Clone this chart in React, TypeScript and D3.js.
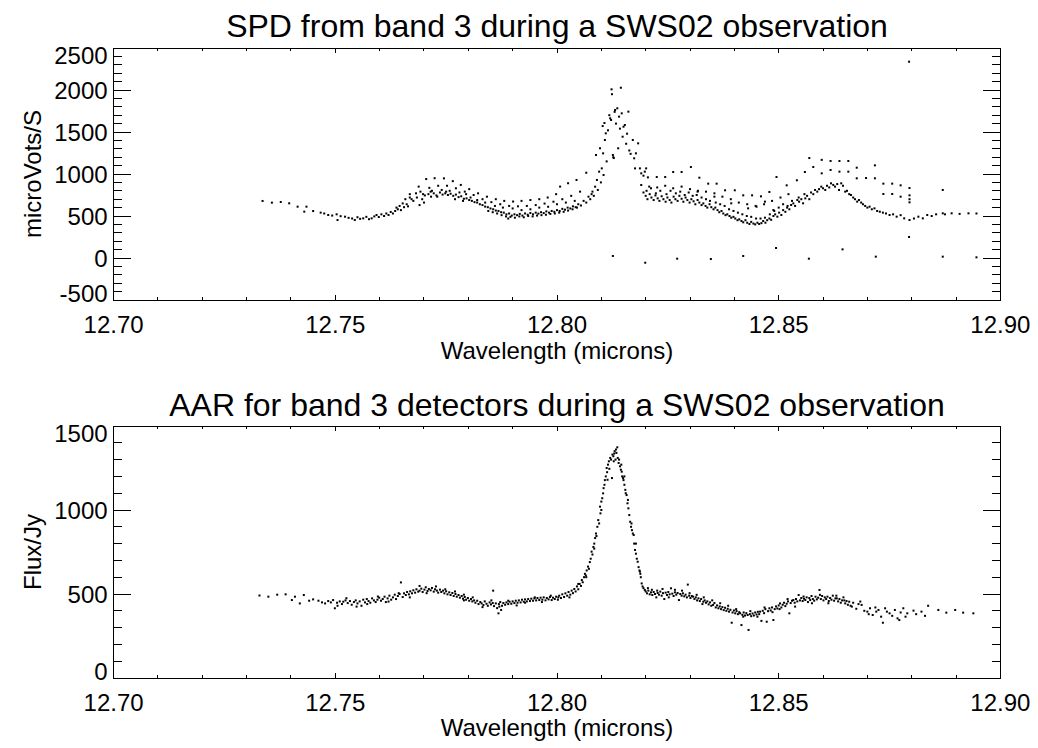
import React, { useEffect, useRef } from "react";
import * as d3 from "d3";

// ---------- tick labels ----------
const xTickValues = [12.7, 12.75, 12.8, 12.85, 12.9];
const spdYTicks = [-500, 0, 500, 1000, 1500, 2000, 2500];
const aarYTicks = [0, 500, 1000, 1500];

// ---------- SPD (top panel) data: [wavelength, microVolts/s] ----------
const spdStart: [number, number][] = [
  [12.7336,679],[12.7357,659],[12.7377,667],[12.7396,651],[12.7415,611],[12.743,552],[12.7435,611],[12.745,559],
  [12.7467,540],[12.7475,530],[12.7484,512],[12.7493,505],[12.7503,520],[12.7505,452],[12.7512,498],[12.7522,492],
  [12.753,478],[12.7538,470],[12.7544,452],[12.755,485],[12.7556,466],[12.7563,472],[12.757,490],[12.7576,462],
  [12.7582,472],[12.7588,495],[12.7593,512],[12.7598,488],[12.7604,520],[12.761,500],[12.7615,530],[12.762,512],
  [12.7625,548],[12.763,530],[12.7635,560],[12.7638,600],[12.7641,580],[12.7645,620],[12.7648,570],[12.7652,650],
  [12.7655,605],[12.7658,700],[12.7661,640],[12.7664,615],
];
const spdUpper: [number, number][] = [
  [12.7668,760],[12.7688,850],[12.7705,940],[12.7724,950],[12.7745,948],[12.7765,915],[12.7783,870],[12.7802,820],
  [12.7822,770],[12.7842,730],[12.7862,700],[12.7881,680],[12.7901,672],[12.792,680],[12.794,690],[12.796,700],
  [12.7979,720],[12.7998,760],[12.8007,850],[12.8025,890],[12.8044,929],[12.8066,1015],
  [12.7672,700],[12.7692,790],[12.7712,835],[12.7732,860],[12.7752,860],[12.7772,830],[12.7792,790],[12.7812,750],
  [12.7832,700],[12.7852,665],[12.7872,640],[12.7892,620],[12.7912,615],[12.7932,620],[12.7952,630],[12.7972,648],
  [12.7992,670],[12.8012,700],[12.8032,740],[12.8052,790],
  [12.769,630],[12.77,660],[12.7718,800],[12.774,810],[12.7758,800],[12.778,780],[12.7795,760],
];
const spdMain: [number, number][] = [
  [12.7676,680],[12.7684,720],[12.7696,700],[12.7702,745],[12.771,760],[12.7716,730],[12.7722,770],[12.7728,745],
  [12.7736,780],[12.7742,755],[12.7748,770],[12.7754,750],[12.776,765],[12.7766,740],[12.7772,755],[12.7778,725],
  [12.7784,735],[12.779,705],[12.7796,710],[12.7802,690],[12.7808,680],[12.7814,665],[12.782,660],[12.7826,640],
  [12.7832,630],[12.7838,612],[12.7844,605],[12.785,590],[12.7856,580],[12.7862,565],[12.7868,560],[12.7874,545],
  [12.788,540],[12.7886,520],[12.7892,530],[12.7898,505],[12.7904,520],[12.791,510],[12.7916,525],[12.7922,505],
  [12.7928,530],[12.7934,515],[12.794,535],[12.7946,520],[12.7952,540],[12.7958,528],[12.7964,545],[12.797,535],
  [12.7976,555],[12.7982,540],[12.7988,560],[12.7994,550],[12.8,570],[12.8006,560],[12.8012,585],[12.8018,575],
  [12.8024,600],[12.803,590],[12.8036,615],[12.8042,605],[12.8048,640],[12.8054,625],[12.806,680],[12.8066,660],
  [12.7845,560],[12.7855,545],[12.7865,530],[12.7875,510],[12.7885,495],[12.789,470],[12.7895,490],[12.7905,480],
  [12.7915,495],[12.7925,485],[12.7935,500],[12.7945,495],[12.7955,505],[12.7965,510],[12.7975,515],[12.7985,525],
  [12.7995,530],[12.8005,540],[12.8015,550],[12.8025,565],[12.8035,580],[12.8045,600],
];
const spdPeak: [number, number][] = [
  [12.8071,730],[12.8075,700],[12.8078,760],[12.808,790],[12.8083,740],[12.8086,849],[12.8088,1226],[12.809,929],
  [12.8092,810],[12.8095,1028],[12.8097,1306],[12.8099,900],[12.8101,1067],[12.8103,1571],[12.8104,1246],[12.8105,988],
  [12.8107,1607],[12.8108,1405],[12.811,1484],[12.8112,1150],[12.8115,1520],[12.8118,1700],[12.812,1663],[12.8122,1643],
  [12.8123,2008],[12.8124,1950],[12.8126,1226],[12.8127,1200],[12.8128,1190],[12.813,1740],[12.8131,1762],[12.8133,1600],
  [12.8136,1782],[12.8138,1306],[12.814,1683],[12.8142,1540],[12.8144,2027],[12.8146,1722],[12.8148,1444],[12.815,1563],
  [12.8153,1583],[12.8156,1360],[12.8158,1480],[12.8161,1742],[12.8163,1280],[12.8166,1240],[12.8171,1405],[12.8174,1187],
  [12.8176,1067],[12.8178,1246],[12.8183,1365],[12.8187,1067],[12.819,1008],[12.8195,980],[12.8198,1028],[12.8201,1067],
];
const spdPostUpper: [number, number][] = [
  [12.8205,960],[12.8225,964],[12.8244,964],[12.8262,1024],[12.8281,1024],[12.8302,1083],[12.8321,956],[12.8341,885],
  [12.836,885],[12.8379,806],[12.8401,806],[12.842,746],[12.844,746],[12.846,734],[12.8479,786],[12.8495,964],
  [12.8518,865],[12.8541,925],[12.8559,1024],[12.8569,1190],[12.8578,1083],[12.8597,1168],[12.8617,1155],[12.8637,1155],
  [12.8657,1155],[12.8676,1075],[12.8697,952],[12.8717,1103],[12.8736,885],[12.8756,885],[12.8775,865],[12.8795,833],
  [12.8597,1008],[12.8617,1048],[12.8637,1028],[12.8657,1028],[12.8676,949],[12.8717,949],[12.8736,762],[12.8756,762],
  [12.8775,730],[12.8795,746],[12.8795,700],[12.8795,663],[12.887,810],
  [12.819,869],[12.8208,850],[12.8226,840],[12.8244,860],[12.8262,830],[12.8281,850],[12.83,820],[12.8318,800],
  [12.8336,790],[12.8355,770],[12.8373,730],[12.8392,700],[12.841,660],[12.8429,640],[12.8448,620],[12.8467,640],
  [12.8485,680],[12.8504,720],[12.8522,760],[12.8317,790],[12.8355,730],[12.8393,651],[12.8431,591],[12.845,611],
  [12.8469,671],[12.8488,571],
];
const spdPostMain: [number, number][] = [
  [12.8195,780],[12.82,740],[12.8204,700],[12.8209,760],[12.8213,720],[12.8218,690],[12.8222,745],[12.8227,710],
  [12.8231,680],[12.8236,735],[12.824,700],[12.8245,670],[12.8249,720],[12.8254,690],[12.8258,660],[12.8263,730],
  [12.8267,700],[12.8272,680],[12.8276,740],[12.8281,705],[12.8285,670],[12.829,720],[12.8294,690],[12.8299,660],
  [12.8303,700],[12.8308,675],[12.8312,640],[12.8317,690],[12.8321,660],[12.8326,630],[12.833,650],[12.8335,620],
  [12.8339,600],[12.8344,640],[12.8348,605],[12.8353,580],[12.8357,600],[12.8362,570],[12.8366,545],[12.8371,560],
  [12.8375,530],[12.838,510],[12.8384,520],[12.8389,500],[12.8393,480],[12.8398,490],[12.8402,470],[12.8407,450],
  [12.8411,460],[12.8416,440],[12.842,425],[12.8425,450],[12.8429,420],[12.8434,405],[12.8438,430],[12.8443,410],
  [12.8447,400],[12.8452,420],[12.8456,405],[12.8461,415],[12.8465,440],[12.847,420],[12.8474,450],[12.8479,470],
  [12.8483,455],[12.8488,500],[12.8492,520],[12.8497,492],[12.8501,540],[12.8506,512],[12.851,570],[12.8515,550],
  [12.8519,600],[12.8524,580],[12.8528,631],[12.8533,650],[12.8537,620],[12.8542,690],[12.8546,670],[12.8551,700],
  [12.8555,651],[12.856,710],[12.8564,740],[12.8569,700],[12.8573,780],[12.8578,760],[12.8582,810],[12.8587,790],
  [12.8591,820],[12.8596,849],[12.86,830],[12.8605,810],[12.8609,860],[12.8614,840],[12.8618,889],[12.8623,870],
  [12.8627,850],[12.8632,880],[12.8636,810],[12.8641,889],[12.8645,860],[12.865,790],[12.8654,800],[12.8659,760],
  [12.8663,750],[12.8668,720],[12.8672,700],[12.8677,671],[12.8681,690],[12.8686,660],[12.869,640],[12.8695,620],
  [12.87,600],[12.8705,611],[12.871,580],[12.8716,591],[12.8722,560],[12.8728,551],[12.8735,540],[12.8742,530],
  [12.875,512],[12.8758,520],[12.8766,492],[12.8775,510],[12.8783,472],[12.8795,452],[12.8805,470],[12.8815,492],
  [12.8825,472],[12.8835,512],[12.8845,500],[12.8855,520],[12.887,532],[12.8875,520],[12.889,532],[12.8908,525],
  [12.8928,532],[12.8946,530],
];
const spdScatter: [number, number][] = [
  [12.8202,800],[12.8212,830],[12.8223,770],[12.8233,800],[12.8247,760],[12.8256,800],[12.8268,770],[12.8278,790],
  [12.8288,750],[12.8297,780],[12.8306,740],[12.8315,750],[12.8326,720],[12.8336,700],[12.8345,680],[12.8358,660],
  [12.8368,640],[12.8378,620],[12.8388,580],[12.8398,560],[12.8408,540],[12.8418,520],[12.8428,500],[12.8438,490],
  [12.8449,470],[12.8459,470],[12.8469,480],[12.848,520],[12.849,560],[12.85,600],[12.851,640],[12.852,620],
  [12.853,680],[12.8545,720],[12.8558,760],
  [12.7668,720],[12.7682,770],[12.7698,760],[12.7715,790],[12.773,730],[12.775,790],[12.777,700],[12.7788,680],
  [12.7805,720],[12.782,690],[12.7838,660],[12.786,620],[12.7878,600],[12.79,590],[12.792,570],[12.794,580],
  [12.796,600],[12.798,610],[12.8,640],[12.802,660],[12.804,680],
];
const spdZero: [number, number][] = [
  [12.8126,24],[12.8199,-56],[12.8271,-8],[12.8347,-12],[12.842,24],[12.8494,119],[12.8568,-8],[12.8644,103],
  [12.8719,16],[12.8794,250],[12.887,16],[12.8946,8],[12.8794,2337],
];

// ---------- AAR (bottom panel) data: [wavelength, Jy] ----------
const aarBlue: [number, number][] = [
  [12.7329,491],[12.7349,484],[12.7369,496],[12.7388,498],[12.7402,464],[12.7409,484],[12.742,444],[12.7429,494],
  [12.7441,460],[12.745,468],[12.7462,460],[12.747,450],[12.7477,444],[12.7484,458],[12.749,450],[12.7495,464],
  [12.7499,415],[12.7504,448],[12.751,456],[12.7515,440],[12.7518,454],[12.7523,462],[12.7528,446],[12.7533,458],
  [12.7537,436],[12.7542,452],[12.7546,462],[12.755,444],[12.7555,456],[12.7559,430],[12.7563,466],[12.7567,450],
  [12.7571,470],[12.7575,458],[12.7579,448],[12.7583,474],[12.7587,462],[12.7591,452],[12.7595,466],[12.7599,478],
  [12.7603,460],[12.7607,470],[12.7611,484],[12.7614,452],[12.7618,474],[12.7622,490],[12.7626,466],[12.763,480],
  [12.7634,496],[12.7637,470],[12.7641,488],[12.7645,500],[12.7648,569],[12.7652,482],[12.7655,504],[12.7659,494],
  [12.7662,512],[12.7666,498],[12.7669,516],[12.7673,504],[12.7676,522],[12.768,508],[12.7683,528],[12.7687,514],
  [12.769,520],[12.7694,532],[12.7697,512],[12.7701,526],[12.7704,540],[12.7708,518],[12.7711,530],[12.7715,522],
  [12.7718,536],[12.7722,514],[12.7725,528],[12.7729,520],[12.7732,508],[12.7736,526],[12.7739,512],[12.7743,520],
  [12.7746,504],[12.775,516],[12.7753,498],[12.7757,510],[12.776,494],[12.7764,506],[12.7767,488],[12.7771,500],
  [12.7774,484],[12.7778,494],[12.7781,478],[12.7785,488],[12.7788,472],[12.779,496],[12.7792,482],[12.7795,466],
  [12.7799,476],[12.7802,460],[12.7806,470],[12.7809,456],[12.7813,462],[12.7816,448],[12.782,460],[12.7823,440],
  [12.7827,452],[12.783,444],[12.7834,434],[12.7837,456],[12.7841,442],[12.7844,430],[12.7848,450],[12.7851,438],
  [12.7855,446],[12.7856,520],[12.7858,428],[12.7862,444],[12.7865,416],[12.7868,385],[12.7869,440],[12.7872,452],
  [12.7874,405],[12.7876,430],[12.7879,446],[12.7883,436],[12.7886,450],[12.789,440],[12.7893,454],[12.7897,442],
  [12.79,456],[12.7904,446],[12.7907,460],[12.7911,448],[12.7914,462],[12.7918,450],[12.7921,466],[12.7925,454],
  [12.7928,468],[12.7932,456],[12.7935,470],[12.7939,458],[12.7942,472],[12.7946,460],[12.7949,474],[12.7953,462],
  [12.7956,476],[12.796,464],[12.7963,478],[12.7967,466],[12.797,480],[12.7974,462],[12.7977,476],[12.7981,468],
  [12.7984,482],[12.7988,464],[12.7991,478],[12.7995,470],[12.7998,484],[12.8002,466],
];
const aarLine: [number, number][] = [
  [12.8005,490],[12.8009,476],[12.8012,498],[12.8016,482],[12.8019,504],[12.8023,490],[12.8026,512],[12.803,496],
  [12.8033,520],[12.8036,505],[12.8039,530],[12.8042,515],[12.8045,545],[12.8048,528],[12.8051,560],[12.8054,548],
  [12.8056,583],[12.8058,570],[12.8061,600],[12.8063,620],[12.8065,610],[12.8067,640],[12.807,663],[12.8072,650],
  [12.8074,690],[12.8076,710],[12.8078,752],[12.808,735],[12.8082,780],[12.8084,800],[12.8086,833],[12.8088,860],
  [12.8089,845],[12.8091,900],[12.8093,940],[12.8095,920],[12.8097,1020],[12.8098,980],[12.81,1050],[12.8102,1070],
  [12.8104,1099],[12.8105,1130],[12.8107,1150],[12.8108,1178],[12.811,1200],[12.8112,1250],[12.8113,1225],[12.8115,1270],
  [12.8117,1290],[12.8118,1245],[12.812,1310],[12.8122,1300],[12.8124,1190],[12.8125,1330],[12.8127,1320],[12.8129,1336],
  [12.813,1350],[12.8132,1300],[12.8134,1340],[12.8136,1373],[12.8137,1310],[12.8139,1280],[12.814,1300],[12.8142,1260],
  [12.8144,1240],[12.8146,1228],[12.8147,1200],[12.8149,1190],[12.815,1178],[12.8152,1150],[12.8154,1120],[12.8155,1100],
  [12.8157,1089],[12.8159,1040],[12.8161,1010],[12.8163,970],[12.8165,930],[12.8167,900],[12.8169,880],[12.8171,860],
  [12.8173,851],[12.8174,800],[12.8176,762],[12.8178,740],[12.818,710],[12.8182,692],[12.8184,660],[12.8186,640],
  [12.8187,633],[12.8189,600],[12.8191,563],[12.8193,545],[12.8195,535],[12.8198,524],
];
const aarRed: [number, number][] = [
  [12.82,515],[12.8203,504],[12.8206,520],[12.8209,498],[12.8212,510],[12.8215,494],[12.8218,512],[12.8221,500],
  [12.8224,480],[12.8227,506],[12.823,496],[12.8233,514],[12.8236,490],[12.8239,505],[12.8242,470],[12.8245,508],
  [12.8248,494],[12.8251,512],[12.8254,498],[12.8257,534],[12.826,502],[12.8263,488],[12.8266,510],[12.8269,496],
  [12.8272,506],[12.8275,464],[12.8278,500],[12.8281,490],[12.8284,504],[12.8287,486],[12.829,496],[12.8293,480],
  [12.8295,556],[12.8298,490],[12.8301,476],[12.8304,488],[12.8307,484],[12.831,470],[12.8313,480],[12.8316,462],
  [12.8319,474],[12.8322,458],[12.8325,470],[12.8328,440],[12.833,454],[12.8333,462],[12.8336,448],[12.8339,456],
  [12.8342,438],[12.8345,450],[12.8348,430],[12.8352,435],[12.8355,446],[12.8358,420],[12.8361,432],[12.8364,415],
  [12.8367,426],[12.837,410],[12.8373,422],[12.8376,404],[12.8379,418],[12.8382,400],[12.8385,412],[12.8388,395],
  [12.8391,406],[12.8394,329],[12.8396,390],[12.8399,402],[12.8402,385],[12.8405,398],[12.8408,380],[12.8411,392],
  [12.8413,385],[12.8416,315],[12.8418,376],[12.8421,390],[12.8424,372],[12.8427,386],[12.843,375],[12.8432,286],
  [12.8435,380],[12.8438,368],[12.8441,384],[12.8444,372],[12.8447,390],[12.845,378],[12.8453,394],[12.8456,380],
  [12.8458,395],[12.8461,340],[12.8464,400],[12.8467,386],[12.847,410],[12.8473,335],[12.8476,398],[12.8479,415],
  [12.8482,402],[12.8485,420],[12.8488,345],[12.8491,410],[12.8494,426],[12.8497,414],[12.85,432],[12.8503,444],
  [12.8506,420],[12.8509,436],[12.8512,448],[12.8515,428],[12.8518,442],[12.8521,456],[12.8524,385],[12.8527,446],
  [12.853,460],[12.8533,464],[12.8536,448],[12.8539,470],[12.8542,456],[12.8545,494],[12.8548,462],[12.8551,476],
  [12.8554,458],[12.8557,472],[12.856,464],[12.8563,480],[12.8566,452],[12.8569,476],[12.8571,464],[12.8574,488],
  [12.8577,470],[12.858,460],[12.8583,484],[12.8586,468],[12.8589,478],[12.8592,524],[12.8595,470],[12.8598,488],
  [12.8601,462],[12.8604,480],[12.8607,470],[12.861,484],[12.8613,458],[12.8616,476],[12.8619,466],[12.8622,490],
  [12.8625,460],[12.8628,474],[12.8631,474],[12.8634,456],[12.8637,470],[12.864,448],[12.8643,462],[12.8646,480],
  [12.865,444],[12.8653,458],[12.8656,436],[12.8659,454],[12.8662,430],[12.8668,448],[12.8675,412],[12.868,440],
  [12.8687,435],[12.8693,400],[12.87,395],[12.8706,415],[12.8712,375],[12.8718,420],[12.8725,405],[12.8731,365],
  [12.8735,329],[12.8744,395],[12.875,385],[12.8762,405],[12.8768,355],[12.8772,345],[12.8781,415],[12.8786,365],
  [12.8804,401],[12.8822,395],[12.8837,430],[12.886,405],[12.8878,389],[12.8898,405],[12.8916,389],[12.8939,385],
];
const aarScatter: [number, number][] = [
  [12.7505,430],[12.7525,475],[12.7548,425],[12.7572,440],[12.7596,485],[12.762,455],[12.7643,505],[12.7668,480],
  [12.769,548],[12.7706,505],[12.7727,545],[12.7748,528],[12.777,515],[12.779,462],[12.781,480],[12.7832,422],
  [12.7852,462],[12.787,425],[12.789,460],[12.7909,432],[12.7928,448],[12.795,480],[12.7966,452],[12.7986,490],
  [12.8003,480],[12.8028,480],[12.8048,560],[12.8066,600],[12.8084,770],[12.81,1000],[12.8114,1180],[12.8128,1290],
  [12.8133,1360],[12.8145,1270],[12.8152,1200],[12.816,1060],[12.8168,920],[12.8178,800],[12.8188,620],[12.8205,535],
  [12.8214,525],[12.8226,520],[12.8238,530],[12.8252,480],[12.8266,525],[12.8282,520],[12.8299,505],[12.8315,495],
  [12.8331,480],[12.835,462],[12.8368,445],[12.8386,430],[12.8404,410],[12.842,365],[12.8436,398],[12.8452,365],
  [12.8468,420],[12.8486,392],[12.8502,410],[12.852,470],[12.8537,425],[12.8556,485],[12.8575,445],[12.8593,495],
  [12.8612,445],[12.863,490],[12.8648,462],[12.8665,425],[12.8684,455],[12.8703,380],[12.872,395],[12.874,415],
  [12.8756,370],[12.8775,390],[12.879,385],[12.881,380],[12.883,370],
];

const spdAll = [...spdStart, ...spdUpper, ...spdMain, ...spdPeak, ...spdPostUpper, ...spdPostMain, ...spdScatter, ...spdZero];
const aarAll = [...aarBlue, ...aarLine, ...aarRed, ...aarScatter];

const FONT = "'Liberation Sans', Arial, Helvetica, sans-serif";
const LABEL_SIZE = 24;
const TITLE_SIZE = 32;

interface Panel {
  top: number;
  bottom: number;
  yDomain: [number, number];
  yTicks: number[];
  title: string;
  titleY: number;
  yLabel: string;
  tickLabelY: number;
  xTitleY: number;
  points: [number, number][];
}

const LEFT = 113.6;
const RIGHT = 1000.4;

const panels: Panel[] = [
  {
    top: 48, bottom: 300, yDomain: [-500, 2500], yTicks: spdYTicks,
    title: "SPD from band 3 during a SWS02 observation", titleY: 37,
    yLabel: "microVots/S", tickLabelY: 333, xTitleY: 359, points: spdAll,
  },
  {
    top: 426, bottom: 678, yDomain: [0, 1500], yTicks: aarYTicks,
    title: "AAR for band 3 detectors during a SWS02 observation", titleY: 416,
    yLabel: "Flux/Jy", tickLabelY: 711, xTitleY: 736, points: aarAll,
  },
];

export default function App() {
  const ref = useRef<SVGSVGElement>(null);
  useEffect(() => {
    const svg = d3.select(ref.current!);
    svg.selectAll("*").remove();
    svg.append("rect").attr("width", 1038).attr("height", 748).attr("fill", "#fff");

    panels.forEach((p) => {
      const x = d3.scaleLinear().domain([12.7, 12.9]).range([LEFT, RIGHT]);
      const y = d3.scaleLinear().domain(p.yDomain).range([p.bottom, p.top]);
      const g = svg.append("g");
      const h = p.bottom - p.top;
      const w = RIGHT - LEFT;
      const xMajor = 0.02 * h, xMinor = 0.01 * h;
      const yMajor = 0.02 * w, yMinor = 0.01 * w;

      const xMinorVals = d3.range(0, 21).map((i) => 12.7 + i * 0.01);
      const yMinorVals = d3.range(p.yDomain[0], p.yDomain[1] + 1, 100);

      const lines = g.append("g").attr("stroke", "#000").attr("stroke-width", 1).attr("shape-rendering", "crispEdges");
      xMinorVals.forEach((v) => {
        const isMajor = xTickValues.some((t) => Math.abs(t - v) < 1e-6);
        const len = isMajor ? xMajor : xMinor;
        const px = x(v);
        lines.append("line").attr("x1", px).attr("x2", px).attr("y1", p.bottom).attr("y2", p.bottom - len);
        lines.append("line").attr("x1", px).attr("x2", px).attr("y1", p.top).attr("y2", p.top + len);
      });
      yMinorVals.forEach((v) => {
        const isMajor = p.yTicks.includes(v);
        const len = isMajor ? yMajor : yMinor;
        const py = y(v);
        lines.append("line").attr("x1", LEFT).attr("x2", LEFT + len).attr("y1", py).attr("y2", py);
        lines.append("line").attr("x1", RIGHT).attr("x2", RIGHT - len).attr("y1", py).attr("y2", py);
      });
      lines.append("rect").attr("x", LEFT).attr("y", p.top).attr("width", w).attr("height", h).attr("fill", "none");

      g.append("g")
        .selectAll("rect")
        .data(p.points)
        .join("rect")
        .attr("x", (d) => x(d[0]) - 1)
        .attr("y", (d) => y(d[1]) - 1)
        .attr("width", 2)
        .attr("height", 2)
        .attr("fill", "#000");

      const txt = g.append("g").attr("font-family", FONT).attr("fill", "#000");
      xTickValues.forEach((v) => {
        txt.append("text").attr("x", x(v)).attr("y", p.tickLabelY).attr("text-anchor", "middle")
          .attr("font-size", LABEL_SIZE).text(d3.format(".2f")(v));
      });
      p.yTicks.forEach((v, i) => {
        let shift = 0;
        if (i === 0) shift = -7;
        if (i === p.yTicks.length - 1) shift = 7;
        txt.append("text").attr("x", LEFT - 6).attr("y", y(v) + shift + 8.5).attr("text-anchor", "end")
          .attr("font-size", LABEL_SIZE).text(String(v));
      });
      txt.append("text").attr("x", (LEFT + RIGHT) / 2).attr("y", p.xTitleY).attr("text-anchor", "middle")
        .attr("font-size", LABEL_SIZE).text("Wavelength (microns)");
      txt.append("text").attr("x", (LEFT + RIGHT) / 2).attr("y", p.titleY).attr("text-anchor", "middle")
        .attr("font-size", TITLE_SIZE).text(p.title);
      const cy = (p.top + p.bottom) / 2;
      txt.append("text").attr("transform", `translate(41,${cy}) rotate(-90)`).attr("text-anchor", "middle")
        .attr("font-size", LABEL_SIZE).text(p.yLabel);
    });
  }, []);

  return (
    <svg
      ref={ref}
      width={1038}
      height={748}
      style={{ position: "absolute", left: 0, top: 0, display: "block" }}
    />
  );
}
